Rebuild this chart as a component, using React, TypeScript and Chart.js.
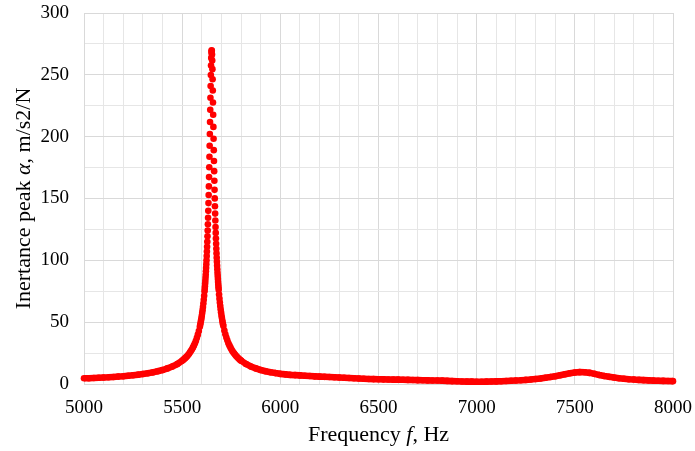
import React, { useEffect, useRef } from "react";
import { Chart, registerables } from "chart.js";

Chart.register(...registerables);

// Sample frequencies (Hz)
const frequencies = [
  5000, 5025, 5050, 5075, 5100, 5125, 5150, 5175, 5200, 5225, 5250, 5275, 5300, 5325, 5350, 5375, 5400, 5425, 5450, 5475, 5500,
  5505, 5510, 5515, 5520, 5525, 5530, 5535, 5540, 5545, 5550, 5555, 5560, 5565, 5570, 5575, 5580, 5585, 5590,
  5592, 5594, 5596, 5598, 5600, 5602, 5604, 5606, 5608, 5610, 5612, 5614,
  5615, 5616, 5617, 5618, 5619, 5620, 5621, 5622, 5623, 5624, 5625, 5626, 5627, 5628, 5629, 5630, 5631, 5632, 5633, 5634,
  5635, 5636, 5637, 5638, 5639, 5640, 5641, 5642, 5643, 5644, 5645, 5646, 5647, 5648, 5649, 5650, 5651, 5652, 5653, 5654,
  5655, 5656, 5657, 5658, 5659, 5660, 5661, 5662, 5663, 5664, 5665, 5666, 5667, 5668, 5669, 5670, 5671, 5672, 5673, 5674,
  5675, 5676, 5677, 5678, 5679, 5680, 5681, 5682, 5683, 5684, 5685,
  5686, 5688, 5690, 5692, 5694, 5696, 5698, 5700, 5702, 5704, 5706, 5708, 5710,
  5715, 5720, 5725, 5730, 5735, 5740, 5745, 5750, 5755, 5760, 5765, 5770, 5775, 5780, 5785, 5790, 5795, 5800,
  5825, 5850, 5875, 5900, 5925, 5950, 5975, 6000, 6025, 6050, 6075, 6100, 6125, 6150, 6175, 6200, 6225, 6250, 6275, 6300,
  6325, 6350, 6375, 6400, 6425, 6450, 6475, 6500, 6525, 6550, 6575, 6600, 6625, 6650, 6675, 6700, 6725, 6750, 6775, 6800,
  6825, 6850, 6875, 6900, 6925, 6950, 6975, 7000, 7025, 7050, 7075, 7100, 7125, 7150, 7175, 7200, 7225, 7250, 7275, 7300,
  7325, 7350, 7375, 7400, 7425, 7450, 7475, 7500, 7525, 7550, 7575, 7600, 7625, 7650, 7675, 7700, 7725, 7750, 7775, 7800,
  7825, 7850, 7875, 7900, 7925, 7950, 7975, 8000,
];

// Inertance peak a (m/s2/N)
const inertance = [
  4.6, 4.7, 4.85, 5.0, 5.2, 5.4, 5.7, 6.0, 6.3, 6.7, 7.1, 7.55, 8.1, 8.7, 9.4, 10.3, 11.3, 12.6, 14.1, 16.1, 18.8,
  19.5, 20.2, 20.9, 21.7, 22.5, 23.5, 24.5, 25.6, 26.8, 28.1, 29.6, 31.2, 33.0, 35.0, 37.3, 39.9, 42.9, 46.3,
  47.9, 49.5, 51.3, 53.1, 55.2, 57.4, 59.7, 62.3, 65.0, 68.1, 71.4, 75.0,
  77.0, 79.0, 81.2, 83.5, 85.9, 88.4, 91.1, 93.9, 96.9, 100.1, 103.5, 107.1, 110.9, 115.0, 119.4, 124.1, 129.1, 134.4, 140.0, 146.3,
  152.8, 159.8, 167.3, 175.3, 183.8, 192.7, 202.1, 211.8, 221.7, 231.5, 241.0, 249.8, 257.6, 263.7, 268.0, 269.9, 269.4, 266.5, 261.5, 254.6,
  246.4, 237.3, 227.6, 217.7, 207.9, 198.3, 189.1, 180.3, 172.1, 164.3, 157.0, 150.1, 143.7, 137.8, 132.2, 127.0, 122.2, 117.6, 113.4, 109.4,
  105.6, 102.1, 98.8, 95.7, 92.8, 90.0, 87.4, 84.9, 82.5, 80.3, 78.2,
  76.2, 72.4, 69.0, 65.9, 63.1, 60.5, 58.0, 55.8, 53.7, 51.8, 50.0, 48.3, 46.8,
  43.3, 40.2, 37.6, 35.3, 33.2, 31.4, 29.8, 28.3, 26.9, 25.7, 24.6, 23.6, 22.6, 21.8, 21.0, 20.2, 19.5, 18.9,
  16.2, 14.2, 12.6, 11.35, 10.3, 9.5, 8.8, 8.2, 7.8, 7.4, 7.2, 6.95, 6.7, 6.45, 6.2, 6.0, 5.8, 5.6, 5.45, 5.3,
  5.1, 4.9, 4.7, 4.5, 4.3, 4.1, 3.95, 3.85, 3.75, 3.65, 3.55, 3.5, 3.4, 3.3, 3.2, 3.1, 3.0, 2.9, 2.85, 2.8,
  2.7, 2.5, 2.35, 2.2, 2.05, 1.95, 1.9, 1.85, 1.85, 1.9, 2.0, 2.1, 2.25, 2.4, 2.6, 2.8, 3.0, 3.3, 3.6, 4.0,
  4.4, 5.0, 5.6, 6.3, 7.1, 7.9, 8.7, 9.3, 9.6, 9.5, 9.0, 8.2, 7.3, 6.5, 5.8, 5.2, 4.7, 4.3, 3.9, 3.6,
  3.3, 3.1, 2.9, 2.75, 2.6, 2.5, 2.4, 2.3,
];

const xTickLabels = ["5000", "5500", "6000", "6500", "7000", "7500", "8000"];
const yTickLabels = ["0", "50", "100", "150", "200", "250", "300"];

const SERIF = '"Liberation Serif", "Times New Roman", Times, serif';
const RED = "#ff0000";

type Run = { text: string; italic?: boolean };

const axisTitlesPlugin = {
  id: "axisTitles",
  afterDraw(chart: any) {
    const ctx: CanvasRenderingContext2D = chart.ctx;
    const a = chart.chartArea;
    const size = 22;
    const fontOf = (r: Run) => `${r.italic ? "italic " : ""}${size}px ${SERIF}`;
    const drawRuns = (runs: Run[], cx: number, cy: number) => {
      let total = 0;
      runs.forEach((r) => {
        ctx.font = fontOf(r);
        total += ctx.measureText(r.text).width;
      });
      let x = cx - total / 2;
      runs.forEach((r) => {
        ctx.font = fontOf(r);
        ctx.fillText(r.text, x, cy);
        x += ctx.measureText(r.text).width;
      });
    };
    ctx.save();
    ctx.fillStyle = "#000000";
    ctx.textAlign = "left";
    ctx.textBaseline = "middle";
    drawRuns(
      [{ text: "Frequency " }, { text: "f", italic: true }, { text: ", Hz" }],
      (a.left + a.right) / 2,
      435
    );
    ctx.translate(24, (a.top + a.bottom) / 2);
    ctx.rotate(-Math.PI / 2);
    drawRuns(
      [{ text: "Inertance peak " }, { text: "α", italic: true }, { text: ", m/s2/N" }],
      0,
      0
    );
    ctx.restore();
  },
};

export default function App() {
  const canvasRef = useRef<HTMLCanvasElement | null>(null);

  useEffect(() => {
    document.body.style.margin = "0";
    const canvas = canvasRef.current;
    if (!canvas) return;
    const points = frequencies.map((f, i) => ({ x: f, y: inertance[i] }));
    const tickFont = { family: SERIF, size: 19 };
    const chart = new Chart(canvas, {
      type: "scatter",
      data: {
        datasets: [
          {
            label: "Inertance",
            data: points,
            backgroundColor: RED,
            borderColor: RED,
            borderWidth: 6.6,
            pointRadius: 3.3,
            pointBorderWidth: 0,
            pointHoverRadius: 3.3,
            showLine: true,
            segment: {
              borderColor: (c: any) =>
                c.p1.parsed.x - c.p0.parsed.x >= 25 ? RED : "rgba(0,0,0,0)",
            },
            clip: false as any,
          },
        ],
      },
      options: {
        animation: false,
        responsive: false,
        events: [],
        layout: { padding: { left: 0, top: 13, right: 22, bottom: 0 } },
        plugins: {
          legend: { display: false },
          tooltip: { enabled: false },
          title: { display: false },
        },
        scales: {
          x: {
            type: "linear",
            min: 5000,
            max: 8000,
            afterFit(scale: any) {
              scale.height = 67;
              scale.paddingLeft = 0;
              scale.paddingRight = 0;
            },
            ticks: {
              stepSize: 100,
              autoSkip: false,
              maxRotation: 0,
              minRotation: 0,
              padding: 13,
              color: "#000000",
              font: tickFont,
              callback: (v: any) => (xTickLabels.includes(String(v)) ? String(v) : ""),
            },
            grid: {
              drawTicks: false,
              color: (c: any) => (c.tick && c.tick.value % 500 === 0 ? "#d9d9d9" : "#e6e6e6"),
              lineWidth: 1,
            },
            border: { color: "#d9d9d9" },
          },
          y: {
            type: "linear",
            min: 0,
            max: 300,
            afterFit(scale: any) {
              scale.width = 84;
              scale.paddingTop = 0;
              scale.paddingBottom = 0;
            },
            ticks: {
              stepSize: 25,
              autoSkip: false,
              padding: 15,
              color: "#000000",
              font: tickFont,
              callback: (v: any) => (yTickLabels.includes(String(v)) ? String(v) : ""),
            },
            grid: {
              drawTicks: false,
              color: (c: any) => (c.tick && c.tick.value % 50 === 0 ? "#d9d9d9" : "#e6e6e6"),
              lineWidth: 1,
            },
            border: { color: "#d9d9d9" },
          },
        },
      },
      plugins: [axisTitlesPlugin],
    });
    return () => chart.destroy();
  }, []);

  return (
    <div style={{ width: 695, height: 451 }}>
      <canvas ref={canvasRef} width={695} height={451} style={{ display: "block" }} />
    </div>
  );
}
